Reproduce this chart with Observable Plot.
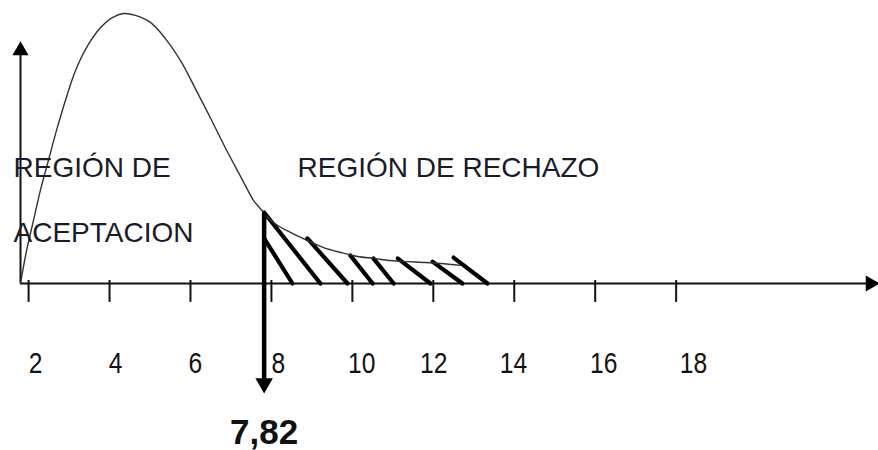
<!DOCTYPE html>
<html>
<head>
<meta charset="utf-8">
<script src="https://cdn.jsdelivr.net/npm/d3@7"></script>
<script src="https://cdn.jsdelivr.net/npm/@observablehq/plot@0.6"></script>
<style>
  html, body { margin: 0; padding: 0; background: #fff; }
  #chart svg { display: block; }
</style>
</head>
<body>
<div id="chart"></div>
<script>
// ---- data ----
// density curve (chi-square-like sketch), x in axis units, y relative height (peak = 1)
const curveX = [1.80, 1.95, 2.12, 2.29, 2.49, 2.69, 2.91, 3.16, 3.46, 3.78, 4.07, 4.35, 4.64, 5.01, 5.38, 5.75, 6.12, 6.50, 6.87, 7.24, 7.56, 7.66, 8.05, 8.47, 8.89, 9.29, 9.71, 10.13, 10.52, 10.94, 11.36, 11.76, 12.18, 12.67];
const curveY = [0.000, 0.122, 0.233, 0.344, 0.456, 0.567, 0.678, 0.789, 0.881, 0.948, 0.985, 1.000, 0.993, 0.967, 0.907, 0.826, 0.722, 0.611, 0.500, 0.396, 0.307, 0.289, 0.226, 0.189, 0.159, 0.133, 0.115, 0.100, 0.093, 0.085, 0.081, 0.078, 0.074, 0.067];

// critical value
const critical = 7.82;
const criticalLabel = "7,82";
const criticalTop = 0.263;      // curve height at the critical value
const criticalArrowEnd = -0.36; // arrow drawn below the axis
const criticalArrowHead = -0.370;
const criticalTextY = -0.593;

// hatch strokes of the rejection region (start on/under the curve, end on the axis)
const hatchX1 = [7.82, 7.82, 8.89, 9.95, 10.52, 11.12, 11.98, 12.50];
const hatchY1 = [0.167, 0.263, 0.167, 0.104, 0.093, 0.093, 0.081, 0.096];
const hatchX2 = [8.52, 9.21, 9.88, 10.50, 11.02, 11.93, 12.72, 13.34];

// axis ticks and their hand-placed labels (label positions as drawn in the sketch)
const xTicks = [2, 4, 6, 8, 10, 12, 14, 16, 18];
const xTickLabels = ["2", "4", "6", "8", "10", "12", "14", "16", "18"];
const xTickLabelPos = [2.17, 4.15, 6.12, 8.17, 10.23, 12.01, 13.98, 16.21, 18.43];
const tickTop = 0.011, tickBottom = -0.07, tickLabelBaseline = -0.333;

// axes extents (axis units)
const xStart = 1.8, xEnd = 23;
const xArrowTip = 22.8;
const yArrowTop = 0.85, yArrowHead = 0.863;

// region labels
const regionText = ["REGIÓN DE", "ACEPTACION", "REGIÓN DE RECHAZO"];
const regionX = [1.627, 1.627, 8.645];
const regionY = [0.393, 0.152, 0.393];

// ---- build tables ----
const curve = curveX.map((x, i) => ({x, y: curveY[i]}));
const hatch = hatchX1.map((x1, i) => ({x1, y1: hatchY1[i], x2: hatchX2[i], y2: 0}));
const regions = regionText.map((t, i) => ({t, x: regionX[i], y: regionY[i]}));
const tickLabels = xTickLabels.map((t, i) => ({t, x: xTickLabelPos[i]}));

const sans = "'Liberation Sans', Arial, sans-serif";
const TICK_FILL = "#121212";

const chart = Plot.plot({
  width: 878,
  height: 450,
  marginTop: 13,
  marginBottom: 167,
  marginLeft: 20,
  marginRight: 0,
  style: {background: "#fff", overflow: "visible"},
  x: {domain: [xStart, xEnd], axis: null},
  y: {domain: [0, 1], axis: null},
  marks: [
    // x axis line + arrow
    Plot.ruleY([0], {x1: xStart, x2: xArrowTip, stroke: "#111", strokeWidth: 2}),
    Plot.dot([{x: xArrowTip, y: 0}], {x: "x", y: "y", symbol: "triangle", r: 6, rotate: 90, fill: "#000", stroke: null}),
    // y axis line + arrow
    Plot.ruleX([xStart], {y1: 0, y2: yArrowTop, stroke: "#111", strokeWidth: 2}),
    Plot.dot([{x: xStart, y: yArrowHead}], {x: "x", y: "y", symbol: "triangle", r: 6, rotate: 0, fill: "#000", stroke: null}),
    // tick marks
    Plot.ruleX(xTicks, {y1: tickTop, y2: tickBottom, stroke: "#111", strokeWidth: 2}),
    // tick labels
    Plot.text(tickLabels, {x: "x", y: tickLabelBaseline, text: "t", fontSize: 30, fontFamily: sans, fill: TICK_FILL, textAnchor: "middle", lineAnchor: "bottom"}),
    // hatch strokes
    Plot.link(hatch, {x1: "x1", y1: "y1", x2: "x2", y2: "y2", stroke: "#000", strokeWidth: 4.2, strokeLinecap: "round"}),
    // density curve
    Plot.line(curve, {x: "x", y: "y", curve: "catmull-rom", stroke: "#333", strokeWidth: 1.4}),
    // critical value line + arrow
    Plot.ruleX([critical], {y1: criticalTop, y2: criticalArrowEnd, stroke: "#000", strokeWidth: 4.5}),
    Plot.dot([{x: critical, y: criticalArrowHead}], {x: "x", y: "y", symbol: "triangle", r: 6.5, rotate: 180, fill: "#000", stroke: null}),
    Plot.text([criticalLabel], {x: critical, y: criticalTextY, text: (d) => d, fontSize: 35, fontWeight: "bold", fontFamily: sans, fill: "#111", textAnchor: "middle", lineAnchor: "bottom"}),
    // region labels
    Plot.text(regions, {x: "x", y: "y", text: "t", fontSize: 28, fontFamily: sans, fill: "#1a1a2a", textAnchor: "start", lineAnchor: "bottom"})
  ]
});

// the sketch uses condensed digits for the tick labels: squeeze them horizontally
d3.select(chart).selectAll(`g[fill="${TICK_FILL}"] text`).each(function () {
  const t = this.getAttribute("transform");
  if (t) {
    this.setAttribute("transform", t + " scale(0.82,1)");
  } else {
    const x = +this.getAttribute("x") || 0;
    this.setAttribute("transform", `translate(${x},0) scale(0.82,1) translate(${-x},0)`);
  }
});

document.getElementById("chart").appendChild(chart);
</script>
</body>
</html>
